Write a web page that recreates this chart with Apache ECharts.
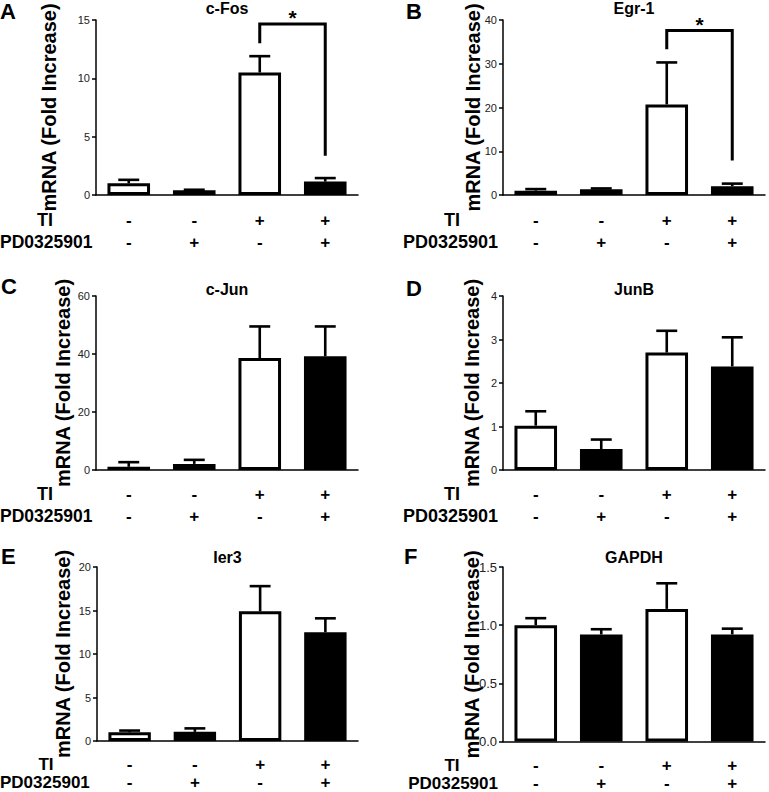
<!DOCTYPE html>
<html><head><meta charset="utf-8">
<script src="https://cdn.jsdelivr.net/npm/echarts@6/dist/echarts.min.js"></script>
<style>html,body{margin:0;padding:0;background:#fff}#c{width:769px;height:792px}</style>
</head><body><div id="c"></div>
<script>
// ---- data ----
const categories = ['1', '2', '3', '4'];
const tiSigns = ['-', '-', '+', '+'];
const pdSigns = ['-', '+', '-', '+'];
const panelLetters = ['A', 'B', 'C', 'D', 'E', 'F'];
const geneNames = ['c-Fos', 'Egr-1', 'c-Jun', 'JunB', 'Ier3', 'GAPDH'];
const yAxisTitle = 'mRNA (Fold Increase)';
const cFosMean = [1.0, 0.4, 10.5, 1.15];
const cFosErr = [0.3, 0.05, 1.4, 0.3];
const egr1Mean = [1.0, 1.3, 20.7, 2.0];
const egr1Err = [0.35, 0.2, 9.6, 0.6];
const cJunMean = [1.1, 2.1, 38.6, 39.2];
const cJunErr = [1.6, 1.4, 10.9, 10.3];
const junBMean = [1.02, 0.48, 2.7, 2.38];
const junBErr = [0.33, 0.22, 0.5, 0.67];
const ier3Mean = [1.0, 1.05, 14.9, 12.5];
const ier3Err = [0.2, 0.4, 2.9, 1.6];
const gapdhMean = [1.0, 0.92, 1.14, 0.92];
const gapdhErr = [0.06, 0.045, 0.22, 0.05];
const yMax = [15, 40, 60, 4, 20, 1.5];
const yInterval = [5, 10, 20, 1, 5, 0.5];
const barFill = ['#ffffff', '#000000', '#ffffff', '#000000'];
// significance brackets: [fromIndex, toIndex, topValue, leftLegEnd, rightLegEnd]
const cFosBracket = [2, 3, 14.66, 13.0, 3.36];
const egr1Bracket = [2, 3, 37.6, 33.3, 7.9];

const means = [cFosMean, egr1Mean, cJunMean, junBMean, ier3Mean, gapdhMean];
const errs = [cFosErr, egr1Err, cJunErr, junBErr, ier3Err, gapdhErr];
const brackets = [cFosBracket, egr1Bracket, null, null, null, null];

// ---- layout ----
const grids = [
  {left: 96, top: 20, width: 262, height: 175},
  {left: 503, top: 20, width: 262, height: 175},
  {left: 96, top: 296, width: 262, height: 174},
  {left: 503, top: 296, width: 262, height: 174},
  {left: 97, top: 567, width: 261, height: 174},
  {left: 503, top: 567, width: 262, height: 175}
];
const nameX = [49, 472.5, 62.5, 471.5, 63, 472];
const tickFont = [11, 11, 11, 11, 11, 13];
const titleY = [8.5, 8.5, 289, 289, 557.5, 557.5];
const letterY = [11.5, 11.5, 286.5, 288.5, 556.5, 556.5];
const letterX = [0, 406, 1, 406, 1, 404];
const rowOff1 = [25, 25, 24, 24, 23.5, 23.5];
const rowOff2 = [47, 47, 46, 46, 41.5, 41.5];
const rowFont = [18, 18, 18, 18, 17, 17];
const FONT = '"Liberation Sans", Arial, Helvetica, sans-serif';

function errorRender(params, api) {
  const x = api.value(0);
  const base = api.coord([x, api.value(1)]);
  const top = api.coord([x, api.value(2)]);
  const half = api.size([1, 0])[0] * 0.16;
  return {type: 'group', children: [
    {type: 'line', shape: {x1: top[0], y1: base[1], x2: top[0], y2: top[1]}, style: {stroke: '#000', lineWidth: 2.6}},
    {type: 'line', shape: {x1: top[0] - half, y1: top[1], x2: top[0] + half, y2: top[1]}, style: {stroke: '#000', lineWidth: 2.6}}
  ]};
}
function bracketRender(params, api) {
  const a = api.coord([api.value(0), api.value(2)]);
  const b = api.coord([api.value(1), api.value(2)]);
  const la = api.coord([api.value(0), api.value(3)]);
  const rb = api.coord([api.value(1), api.value(4)]);
  return {type: 'group', children: [
    {type: 'polyline', shape: {points: [la, a, b, rb]}, style: {stroke: '#000', fill: null, lineWidth: 3}},
    {type: 'text', x: (a[0] + b[0]) / 2, y: a[1] - 6, style: {text: '*', font: 'bold 21px ' + FONT, textAlign: 'center', textVerticalAlign: 'middle', fill: '#000'}}
  ]};
}

const option = {animation: false, backgroundColor: '#fff', grid: [], xAxis: [], yAxis: [], series: [], graphic: []};
grids.forEach((g, k) => {
  const lh = rowOff2[k] - rowOff1[k];
  option.grid.push(g);
  option.xAxis.push({
    type: 'category', gridIndex: k, data: categories,
    axisLine: {lineStyle: {color: '#000', width: 1.5}},
    axisTick: {alignWithLabel: true, length: 5, lineStyle: {color: '#000', width: 1.5}},
    axisLabel: {
      interval: 0, margin: rowOff1[k] - lh / 2, color: '#000', fontFamily: FONT, fontWeight: 'bold', fontSize: 17, lineHeight: lh,
      formatter: (v, i) => tiSigns[i] + '\n' + pdSigns[i]
    }
  });
  option.yAxis.push({
    type: 'value', gridIndex: k, min: 0, max: yMax[k], interval: yInterval[k],
    splitLine: {show: false},
    axisLine: {show: true, lineStyle: {color: '#000', width: 1.5}},
    axisTick: {show: true, length: 4, lineStyle: {color: '#000', width: 1.5}},
    axisLabel: {margin: 6, color: '#222', fontFamily: FONT, fontSize: tickFont[k],
      formatter: k === 5 ? (v => v.toFixed(1)) : (v => String(v))}
  });
  option.series.push({
    type: 'bar', xAxisIndex: k, yAxisIndex: k, barWidth: '65%',
    data: means[k].map((v, i) => ({value: v, itemStyle: {color: barFill[i]}})),
    itemStyle: {borderColor: '#000', borderWidth: 3}
  });
  option.series.push({
    type: 'custom', xAxisIndex: k, yAxisIndex: k, renderItem: errorRender, z: 3,
    data: means[k].map((v, i) => [i, v, v + errs[k][i]])
  });
  if (brackets[k]) {
    option.series.push({
      type: 'custom', xAxisIndex: k, yAxisIndex: k, renderItem: bracketRender, z: 4,
      data: [brackets[k]]
    });
  }
  const bottom = g.top + g.height;
  const leftCol = k % 2 === 0;
  option.graphic.push(
    {type: 'text', x: letterX[k], y: letterY[k], style: {text: panelLetters[k], font: 'bold 22px ' + FONT, fill: '#000', textAlign: 'left', textVerticalAlign: 'middle'}},
    {type: 'text', x: g.left + g.width / 2, y: titleY[k], style: {text: geneNames[k], font: 'bold 16px ' + FONT, fill: '#000', textAlign: 'center', textVerticalAlign: 'middle'}},
    {type: 'text', x: nameX[k], y: g.top + g.height / 2, rotation: Math.PI / 2,
      style: {text: yAxisTitle, font: 'bold 20px ' + FONT, fill: '#000', textAlign: 'center', textVerticalAlign: 'middle'}},
    {type: 'text', x: g.left - 51, y: bottom + rowOff1[k], style: {text: 'TI', font: 'bold ' + rowFont[k] + 'px ' + FONT, fill: '#000', textAlign: 'center', textVerticalAlign: 'middle'}},
    {type: 'text', x: leftCol ? 0 : g.left - 5, y: bottom + rowOff2[k], style: {text: 'PD0325901', font: 'bold ' + (leftCol ? Math.min(rowFont[k], 17.5) : rowFont[k]) + 'px ' + FONT, fill: '#000', textAlign: leftCol ? 'left' : 'right', textVerticalAlign: 'middle'}}
  );
});

const chart = echarts.init(document.getElementById('c'), null, {renderer: 'svg', width: 769, height: 792});
chart.setOption(option);
</script>
</body></html>
